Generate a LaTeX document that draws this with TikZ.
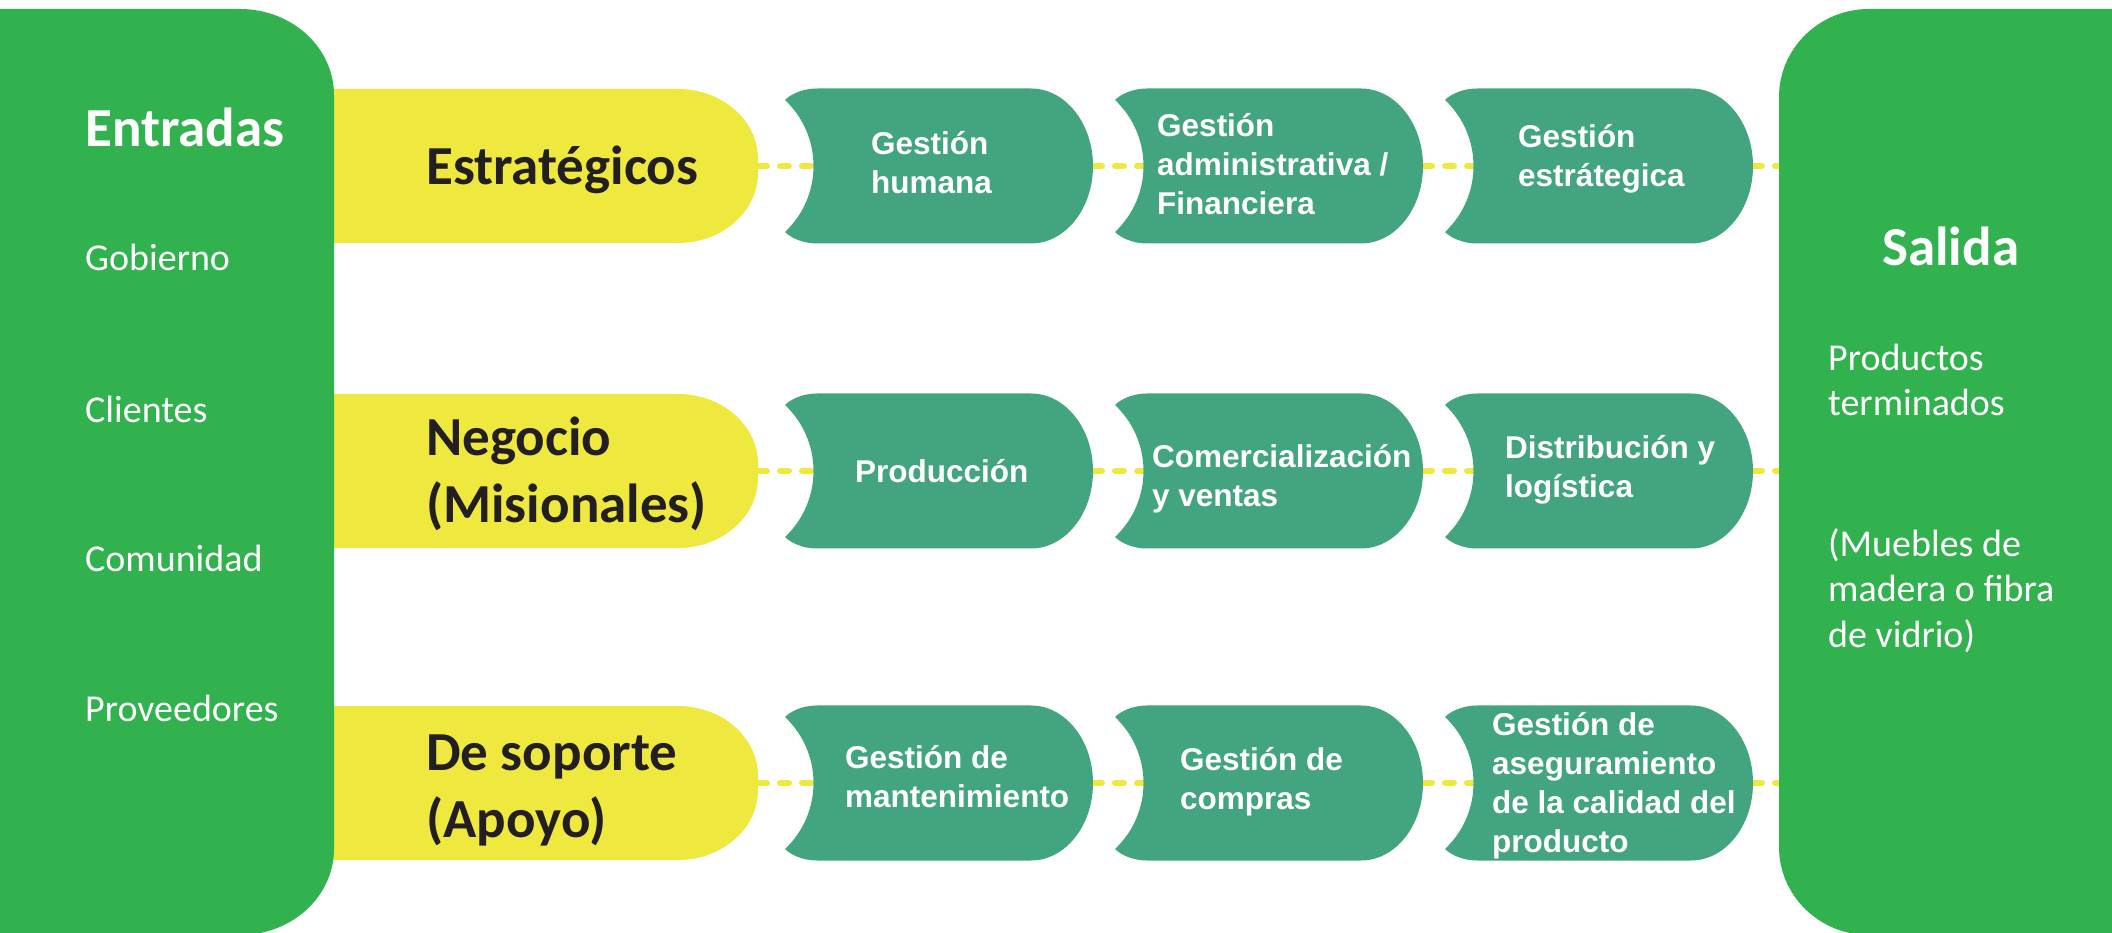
\documentclass[tikz,border=0pt]{standalone}
\usepackage{fontspec}
\setmainfont{Carlito}
\newfontfamily\procfont{Liberation Sans}
\usetikzlibrary{backgrounds}

\definecolor{boxgreen}{HTML}{32B24E}
\definecolor{procteal}{HTML}{43A57F}
\definecolor{catyellow}{HTML}{EFE93F}
\definecolor{darktext}{HTML}{231F20}

\tikzset{
  proctext/.style={text=white,font=\procfont\bfseries\fontsize{31.5}{39}\selectfont,align=left,anchor=west,inner sep=0pt},
  cattext/.style={text=darktext,font=\bfseries\fontsize{55}{67}\selectfont,align=left,anchor=west,inner sep=0pt},
  sidetext/.style={text=white,font=\fontsize{38}{45.5}\selectfont,anchor=base west,inner sep=0pt},
  sidehead/.style={text=white,font=\bfseries\fontsize{55}{66}\selectfont,anchor=base west,inner sep=0pt},
  link/.style={catyellow,line width=6pt,line cap=round,dash pattern=on 9pt off 13pt}
}

% process box: name, left x, mid y, text dx, text dy, text
\newcommand\procbox[6]{%
  \begin{scope}[shift={(#2,#3)}]
    \fill[procteal] (32,77.5) -- (246,77.5) arc[start angle=90,end angle=-90,x radius=62,y radius=77.5]
      -- (32,-77.5) .. controls (18,-77.5) and (6,-72) .. (0,-66)
      .. controls (38,-30) and (38,30) .. (0,66) .. controls (6,72) and (18,77.5) .. cycle;
    \coordinate (#1-in) at (29,0);
    \coordinate (#1-out) at (308,0);
    \node[proctext] (#1) at (#4,#5) {#6};
  \end{scope}}

\begin{document}
\begin{tikzpicture}[x=1pt,y=1pt]
  \useasboundingbox (0,0) rectangle (2112,932);
  \clip (0,0) rectangle (2112,932);
  % category bars
  \foreach \yy/\nm in {766/est,461/neg,149/sop}{
    \begin{scope}[shift={(334,\yy)}]
      \fill[catyellow] (-4,-77) -- (344,-77) arc[start angle=-90,end angle=0,x radius=80,y radius=70]
        -- (424,7) arc[start angle=0,end angle=90,x radius=80,y radius=70] -- (-4,77) -- cycle;
      \coordinate (\nm-out) at (424,0);
    \end{scope}
  }
  % inputs / output
  \fill[boxgreen] (-5,-3) -- (240,-3) arc[start angle=-90,end angle=0,x radius=94,y radius=86]
    -- (334,837) arc[start angle=0,end angle=90,x radius=94,y radius=86] -- (-5,923) -- cycle;
  \fill[boxgreen] (2117,-3) -- (1869,-3) arc[start angle=270,end angle=180,x radius=90,y radius=88]
    -- (1779,835) arc[start angle=180,end angle=90,x radius=90,y radius=88] -- (2117,923) -- cycle;
  \coordinate (sal-1) at (1779,766);
  \coordinate (sal-2) at (1779,461);
  \coordinate (sal-3) at (1779,149);

  \node[sidehead] (entradas) at (85,785.5) {Entradas};
  \foreach \yy/\txt in {661/Gobierno,509/Clientes,360/Comunidad,210/Proveedores}
    \node[sidetext] (\txt) at (85,\yy) {\txt};
  \node[sidehead] (salida) at (1882,666.5) {Salida};
  \node[sidetext,align=left,anchor=west] (productos) at (1828,434)
    {Productos\\terminados\\[95pt](Muebles de\\madera o fibra\\de vidrio)};

  \node[cattext] (est) at (426,762) {Estratégicos};
  \node[cattext] (neg) at (426,458) {Negocio\\(Misionales)};
  \node[cattext] (sop) at (426,142) {De soporte\\(Apoyo)};

  % processes
  \procbox{gh}{785}{766}{86}{3}{Gestión\\humana}
  \procbox{ga}{1115}{766}{42}{2}{Gestión\\administrativa /\\Financiera}
  \procbox{ge}{1445}{766}{73}{7}{Gestión\\estrátegica}
  \procbox{pr}{785}{461}{70}{0}{Producción}
  \procbox{cv}{1115}{461}{37}{-8}{Comercialización\\y ventas}
  \procbox{dl}{1445}{461}{60}{1}{Distribución y\\logística}
  \procbox{gm}{785}{149}{60}{6}{Gestión de\\mantenimiento}
  \procbox{gc}{1115}{149}{65}{1}{Gestión de\\compras}
  \procbox{gq}{1445}{149}{47}{-3}{Gestión de\\aseguramiento\\de la calidad del\\producto}

  \begin{scope}[on background layer]
    \foreach \a/\b in {est-out/gh-in,gh-out/ga-in,ga-out/ge-in,ge-out/sal-1,
                       neg-out/pr-in,pr-out/cv-in,cv-out/dl-in,dl-out/sal-2,
                       sop-out/gm-in,gm-out/gc-in,gc-out/gq-in,gq-out/sal-3}
      \draw[link] (\a) -- (\b);
  \end{scope}
\end{tikzpicture}
\end{document}
